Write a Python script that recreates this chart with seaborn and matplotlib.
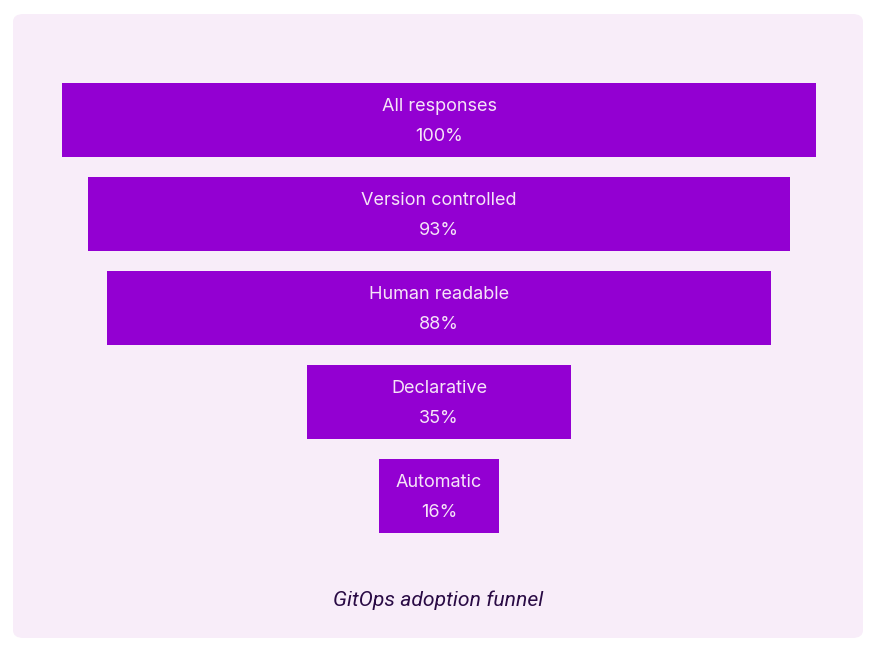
import matplotlib
matplotlib.use('Agg')
import matplotlib.pyplot as plt
import seaborn as sns
import pandas as pd
from matplotlib.patches import FancyBboxPatch

# ========== data ==========
stages = ['All responses', 'Version controlled', 'Human readable', 'Declarative', 'Automatic']
shares = [100, 93, 88, 35, 16]
caption = 'GitOps adoption funnel'

BAR_COLOR = '#9300d2'
PANEL_COLOR = '#f8edf9'
TEXT_COLOR = '#f6e4f8'

df = pd.DataFrame({'stage': stages, 'share': shares})

sns.set_theme(style='white')
plt.rcParams['font.family'] = ['Inter', 'DejaVu Sans']

fig = plt.figure(figsize=(8.76, 6.52), dpi=100)
fig.patch.set_facecolor('white')

# rounded background panel
panel = FancyBboxPatch((13 / 876, 14 / 652), 850 / 876, 624 / 652,
                       boxstyle='round,pad=0,rounding_size=0.012',
                       transform=fig.transFigure, facecolor=PANEL_COLOR,
                       edgecolor='none', zorder=-1)
fig.patches.append(panel)

ax = fig.add_axes([62 / 876, 109 / 652, 754 / 876, 470 / 652])
ax.set_facecolor('none')
ax.set_zorder(2)

sns.barplot(data=df, x='share', y='stage', orient='h', color=BAR_COLOR,
            width=0.79, saturation=1, ax=ax)

# center each bar to make the funnel
for patch, val in zip(ax.patches, shares):
    patch.set_x(-val / 2)
    patch.set_edgecolor('none')

ax.set_xlim(-50, 50)
ax.set_ylim(len(stages) - 0.5, -0.5)

for i, (name, val) in enumerate(zip(stages, shares)):
    ax.text(0, i - 0.145, name, ha='center', va='center', color=TEXT_COLOR, fontsize=13)
    ax.text(0, i + 0.175, f'{val}%', ha='center', va='center', color=TEXT_COLOR, fontsize=13)

ax.set_xlabel('')
ax.set_ylabel('')
ax.set_xticks([])
ax.set_yticks([])
sns.despine(ax=ax, left=True, bottom=True)

fig.text(438 / 876, 1 - 600 / 652, caption, ha='center', va='center',
         fontsize=15.2, style='italic', color='#2a0b45', family=['Roboto', 'DejaVu Sans'],
         zorder=3)

fig.savefig('out.png', dpi=100)
plt.close(fig)
